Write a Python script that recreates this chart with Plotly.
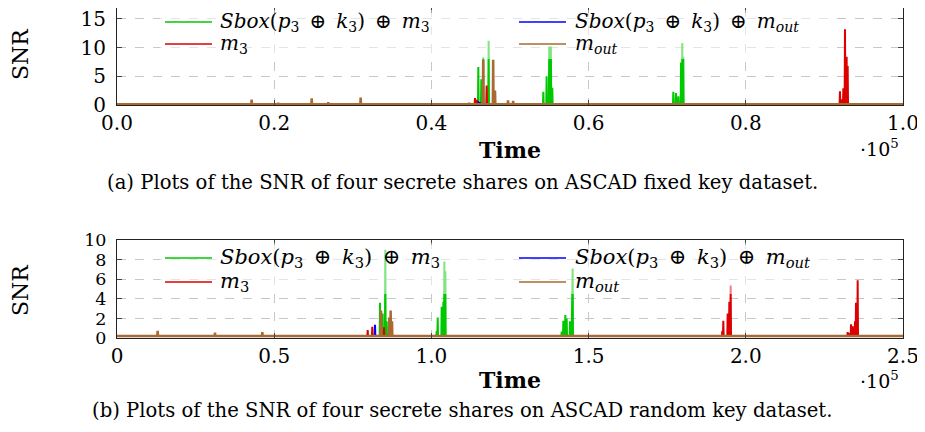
import plotly.graph_objects as go

# ---------------- data ----------------
# (a) ASCAD fixed key, time axis 0 .. 1e5 samples
fixed_sbox_m3_t = [45970, 46350, 46600, 47280, 54240, 54660, 54990, 55200, 55380,
                   70780, 71120, 71420, 71760, 71920, 72050]
fixed_sbox_m3_v = [6.6, 4.5, 8.3, 11.2, 2.3, 5.0, 10.2, 10.2, 3.0,
                   2.3, 2.1, 1.5, 7.4, 10.8, 8.4]
fixed_sbox_mout_t = [45900, 46150, 63000, 81000]
fixed_sbox_mout_v = [0.7, 0.5, 0.3, 0.3]
fixed_m3_t = [45550, 45720, 47030, 91980, 92200, 92410, 92620, 92830, 92960]
fixed_m3_v = [1.2, 0.9, 3.4, 2.4, 1.0, 2.9, 13.2, 8.4, 6.8]
fixed_mout_t = [17130, 20500, 24770, 26880, 31000, 44800, 46590, 47860, 48090,
                49750, 50400]
fixed_mout_v = [0.95, 0.4, 1.15, 0.5, 1.3, 0.4, 7.9, 7.9, 2.5, 0.8, 0.7]
fixed_baseline = 0.15
fixed_x_max = 100000
fixed_y_max = 16.9

# (b) ASCAD random key, time axis 0 .. 2.5e5 samples
rand_sbox_m3_t = [83650, 84500, 85340, 85770, 101680, 102000, 103270, 103800, 104120,
                  104440, 141440, 141970, 142600, 143030, 144080, 144720, 144930]
rand_sbox_m3_v = [3.6, 2.5, 9.0, 1.7, 0.7, 2.1, 3.2, 3.7, 7.8,
                  6.8, 0.65, 1.75, 2.35, 2.0, 1.7, 4.0, 7.1]
rand_sbox_mout_t = [82060]
rand_sbox_mout_v = [1.35]
rand_m3_t = [79730, 81200, 84920, 192530, 192850, 194230, 194760, 195190,
             232400, 232830, 233470, 234000, 234730, 235050, 235580]
rand_m3_v = [0.8, 1.15, 1.1, 0.7, 1.75, 2.5, 3.7, 5.35,
             0.6, 0.5, 1.4, 1.2, 1.7, 3.6, 5.9]
rand_mout_t = [12930, 31170, 46220, 83970, 86610, 87040, 87470]
rand_mout_v = [0.72, 0.55, 0.6, 2.8, 2.1, 2.8, 1.7]
rand_baseline = 0.2
rand_x_max = 250000
rand_y_max = 10

fixed_xtick_vals = [0, 20000, 40000, 60000, 80000, 100000]
fixed_xtick_text = ["0.0", "0.2", "0.4", "0.6", "0.8", "1.0"]
fixed_ytick_vals = [0, 5, 10, 15]
rand_xtick_vals = [0, 50000, 100000, 150000, 200000, 250000]
rand_xtick_text = ["0", "0.5", "1.0", "1.5", "2.0", "2.5"]
rand_ytick_vals = [0, 2, 4, 6, 8, 10]

OPL = "\u2002⊕\u2002"
names = [
    f"<i>Sbox</i>(<i>p</i><sub>3</sub>{OPL}<i>k</i><sub>3</sub>){OPL}<i>m</i><sub>3</sub>",
    f"<i>Sbox</i>(<i>p</i><sub>3</sub>{OPL}<i>k</i><sub>3</sub>){OPL}<i>m</i><sub><i>out</i></sub>",
    "<i>m</i><sub>3</sub>",
    "<i>m</i><sub><i>out</i></sub>",
]
colors = ["#00c800", "#0000ff", "#dc0000", "#a86a32"]

caption_a = "(a) Plots of the SNR of four secrete shares on ASCAD fixed key dataset."
caption_b = "(b) Plots of the SNR of four secrete shares on ASCAD random key dataset."

# ---------------- layout helpers (window pixel coords) ----------------
FONT = "DejaVu Serif"
PAGE_MARGIN = 8                     # default <body> margin of the page
W, H = 925 - PAGE_MARGIN, 432 - PAGE_MARGIN
L, R, T, B = 117, 903, 8, 338       # plot-area box in window pixels


def px(x):
    return (x - L) / (R - L)


def py(y):
    return (B - y) / (B - T)


def spikes(ts, vs, base, xmax, half):
    xs, ys = [0], [base]
    for t, v in sorted(zip(ts, vs)):
        xs += [t - half, t, t + half]
        ys += [base, v, base]
    xs.append(xmax)
    ys.append(base)
    return xs, ys


fig = go.Figure()

panels = [
    dict(series=[(fixed_sbox_m3_t, fixed_sbox_m3_v), (fixed_sbox_mout_t, fixed_sbox_mout_v),
                 (fixed_m3_t, fixed_m3_v), (fixed_mout_t, fixed_mout_v)],
         base=fixed_baseline, xmax=fixed_x_max, half=45, xa="x", ya="y"),
    dict(series=[(rand_sbox_m3_t, rand_sbox_m3_v), (rand_sbox_mout_t, rand_sbox_mout_v),
                 (rand_m3_t, rand_m3_v), (rand_mout_t, rand_mout_v)],
         base=rand_baseline, xmax=rand_x_max, half=110, xa="x2", ya="y2"),
]

for p in panels:
    for i, (ts, vs) in enumerate(p["series"]):
        xs, ys = spikes(ts, vs, p["base"], p["xmax"], p["half"])
        fig.add_trace(go.Scatter(
            x=xs, y=ys, mode="lines", name=names[i], showlegend=False,
            line=dict(color=colors[i], width=2 if i < 3 else 2.5),
            xaxis=p["xa"], yaxis=p["ya"],
        ))

axis_common = dict(
    showgrid=True, gridcolor="#c8c8c8", griddash="dash", gridwidth=1,
    showline=True, linecolor="#222", linewidth=1, mirror="ticks",
    ticks="inside", ticklen=5, tickcolor="#444", zeroline=False,
    automargin=False, ticklabeloverflow="allow",
    tickfont=dict(family=FONT, size=20, color="black"),
)

fig.update_layout(
    width=W, height=H,
    margin=dict(l=L - PAGE_MARGIN, r=W - (R - PAGE_MARGIN), t=T - PAGE_MARGIN,
                b=H - (B - PAGE_MARGIN)),
    paper_bgcolor="white", plot_bgcolor="white",
    showlegend=False,
    xaxis=dict(axis_common, domain=[0, 1], range=[0, fixed_x_max], anchor="y",
               tickvals=fixed_xtick_vals, ticktext=fixed_xtick_text),
    yaxis=dict(axis_common, domain=[py(105), 1], range=[0, fixed_y_max], anchor="x",
               tickvals=fixed_ytick_vals, ticklabelstandoff=6),
    xaxis2=dict(axis_common, domain=[0, 1], range=[0, rand_x_max], anchor="y2",
                tickvals=rand_xtick_vals, ticktext=rand_xtick_text),
    yaxis2=dict(axis_common, domain=[0, py(240)], range=[0, rand_y_max], anchor="x2",
                tickvals=rand_ytick_vals, ticklabelstandoff=6,
                tickfont=dict(family=FONT, size=17.5, color="black")),
)

# ---------------- legends (two columns, semi-transparent box) ----------------
shapes, ann = [], []
# box top, box bottom, row1, row2, font size
legend_rows = [(10, 59, 22, 44, 20), (243, 294, 258, 282, 21)]
col_x = [(165, 212, 218), (519, 566, 573)]               # line start, line end, text start
for (btop, bbot, r1, r2, fs) in legend_rows:
    shapes.append(dict(type="rect", xref="paper", yref="paper", layer="above",
                       x0=px(160), x1=px(835), y0=py(bbot), y1=py(btop),
                       fillcolor="rgba(255,255,255,0.5)", line=dict(width=0)))
    for i, name in enumerate(names):
        col = 0 if i in (0, 2) else 1
        row_y = r1 if i < 2 else r2
        x0, x1, xt = col_x[col]
        shapes.append(dict(type="line", xref="paper", yref="paper", layer="above",
                           x0=px(x0), x1=px(x1), y0=py(row_y), y1=py(row_y),
                           line=dict(color=colors[i], width=1.5)))
        ann.append(dict(x=px(xt), y=py(row_y), text=name, showarrow=False,
                        xref="paper", yref="paper", xanchor="left", yanchor="middle",
                        font=dict(family=FONT, size=fs, color="black")))

for ysnr, ytime, yexp, ycap, cap in [(54, 150, 148, 182, caption_a),
                                     (290, 380, 380, 410, caption_b)]:
    ann.append(dict(x=px(20), y=py(ysnr), text="SNR", textangle=-90, showarrow=False,
                    xref="paper", yref="paper", xanchor="center", yanchor="middle",
                    font=dict(family=FONT, size=22, color="black")))
    ann.append(dict(x=px(510), y=py(ytime), text="<b>Time</b>", showarrow=False,
                    xref="paper", yref="paper", xanchor="center", yanchor="middle",
                    font=dict(family=FONT, size=22, color="black")))
    ann.append(dict(x=px(879), y=py(yexp), text="·10<sup>5</sup>", showarrow=False,
                    xref="paper", yref="paper", xanchor="center", yanchor="middle",
                    font=dict(family=FONT, size=19, color="black")))
    ann.append(dict(x=px(462), y=py(ycap), text=cap, showarrow=False,
                    xref="paper", yref="paper", xanchor="center", yanchor="middle",
                    font=dict(family=FONT, size=19.6, color="black")))
fig.update_layout(annotations=ann, shapes=shapes)

fig.write_html("out.html")
